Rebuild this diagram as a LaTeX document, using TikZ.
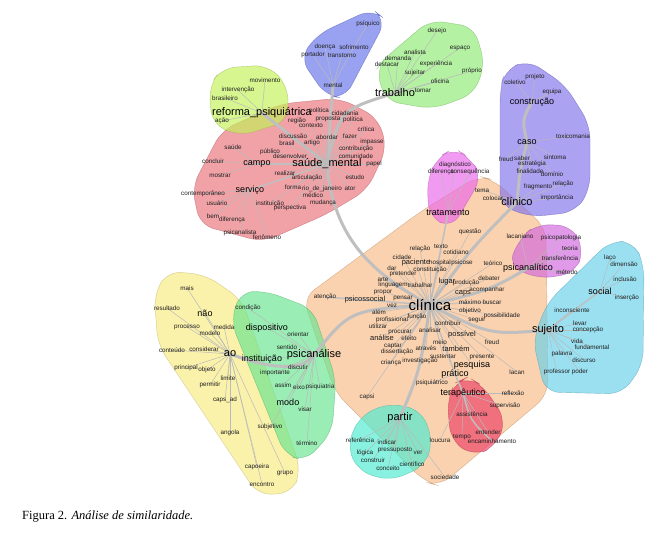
\documentclass[tikz,border=0pt]{standalone}
\usepackage{fontspec}
\setmainfont{Liberation Sans}
\newfontfamily\capfont{Liberation Serif}
\definecolor{cBlue}{RGB}{101,115,235}
\definecolor{cGreen}{RGB}{142,235,115}
\definecolor{cRef}{RGB}{195,242,88}
\definecolor{cPink}{RGB}{235,115,122}
\definecolor{cPurple}{RGB}{128,115,235}
\definecolor{cDiag}{RGB}{235,102,235}
\definecolor{cOrange}{RGB}{248,188,135}
\definecolor{cPsl}{RGB}{208,102,222}
\definecolor{cCyan}{RGB}{102,208,235}
\definecolor{cYellow}{RGB}{248,235,128}
\definecolor{cGreenB}{RGB}{102,228,142}
\definecolor{cRed}{RGB}{235,62,102}
\definecolor{cTeal}{RGB}{75,235,208}
\pgfdeclarelayer{blobs}
\pgfdeclarelayer{edges}
\pgfsetlayers{blobs,edges,main}
\tikzset{
  blob/.style={fill=#1, fill opacity=0.66, draw=#1!75!black, draw opacity=0.6, line width=0.4pt, rounded corners=14pt},
  e/.style={draw=black!27, line width=0.5pt},
  em/.style={draw=black!25, line width=1.5pt},
  te/.style={draw=black!25, line width=3pt},
  w1/.style={font=\fontsize{6.3}{7}\selectfont, inner sep=0.3pt, text=black!88},
  w2/.style={font=\fontsize{7.5}{8}\selectfont, inner sep=0.3pt, text=black!90},
  w3/.style={font=\fontsize{9}{10}\selectfont, inner sep=0.3pt, text=black},
  w4/.style={font=\fontsize{11}{12}\selectfont, inner sep=0.3pt, text=black},
  w5/.style={font=\fontsize{15}{16}\selectfont, inner sep=0.3pt, text=black},
}
\begin{document}
\begin{tikzpicture}[x=1pt,y=-1pt]
\path[use as bounding box] (0,0) rectangle (646,537);

% ---------- blobs ----------
\begin{pgfonlayer}{blobs}
\fill[white] (0,0) rectangle (646,537);
\path[blob=cOrange] (303,298) -- (420,212) -- (478,176) -- (494,180) -- (546,228) -- (548,395) -- (440,486) -- (425,482) -- (335,392) -- cycle;
\path[blob=cPink] (192,187) -- (222,130) -- (280,104) -- (340,98) -- (378,118) -- (387,148) -- (367,190) -- (327,214) -- (263,242) -- (200,225) -- cycle;
\path[blob=cBlue] (372,9) -- (386,20) -- (345,98) -- (326,96) -- (300,58) -- (318,34) -- cycle;
\path[blob=cGreen] (385,58) -- (430,20) -- (474,27) -- (485,64) -- (474,94) -- (433,109) -- (386,101) -- (376,70) -- cycle;
\path[blob=cRef] (222,68) -- (268,65) -- (288,86) -- (288,121) -- (240,136) -- (212,124) -- (209,86) -- cycle;
\path[blob=cPurple] (505,70) -- (528,60) -- (565,85) -- (590,125) -- (590,190) -- (575,212) -- (530,217) -- (500,205) -- (500,90) -- cycle;
\path[blob=cDiag] (437,158) -- (454,148) -- (470,158) -- (482,177) -- (452,228) -- (429,217) -- (427,180) -- cycle;
\path[blob=cPsl] (520,238) -- (537,224) -- (572,226) -- (584,250) -- (575,273) -- (540,279) -- (508,266) -- cycle;
\path[blob=cCyan] (610,241) -- (634,242) -- (644,265) -- (643,365) -- (622,394) -- (545,392) -- (533,340) -- (547,303) -- cycle;
\path[blob=cYellow] (168,271) -- (206,275) -- (242,300) -- (301,470) -- (292,493) -- (258,495) -- (158,345) -- (154,294) -- cycle;
\path[blob=cGreenB] (240,292) -- (266,291) -- (313,309) -- (336,380) -- (332,432) -- (306,461) -- (285,455) -- (231,322) -- cycle;
\path[blob=cRed] (455,383) -- (468,377) -- (483,386) -- (506,420) -- (496,446) -- (474,456) -- (451,441) -- (447,400) -- cycle;
\path[blob=cTeal] (360,416) -- (388,403) -- (421,410) -- (433,440) -- (425,466) -- (390,481) -- (358,471) -- (347,445) -- cycle;
\end{pgfonlayer}

% ---------- words ----------
% blue
\node[w1] (psiq) at (368,24) {psíquico};
\node[w1] (doen) at (325,47) {doença};
\node[w1] (sofr) at (354,47) {sofrimento};
\node[w1] (port) at (313,55) {portador};
\node[w1] (tran) at (342,55) {transtorno};
\node[w1] (ment) at (333,85) {mental};
% green top
\node[w1] (dese) at (437,31) {desejo};
\node[w1] (espa) at (460,48) {espaço};
\node[w1] (anal) at (415,52) {analista};
\node[w1] (dema) at (398,58) {demanda};
\node[w1] (dest) at (387,64) {destacar};
\node[w1] (expe) at (436,64) {experiência};
\node[w1] (prop) at (472,71) {próprio};
\node[w1] (suje) at (415,73) {sujeitar};
\node[w1] (ofic) at (440,81) {oficina};
\node[w4] (trab) at (395,93) {trabalho};
\node[w1] (toma) at (423,90) {tomar};
% reforma
\node[w1] (movi) at (265,80) {movimento};
\node[w1] (inte) at (238,90) {intervenção};
\node[w1] (bras) at (225,98) {brasileiro};
\node[w4] (refo) at (262,113) {reforma\_psiquiátrica};
\node[w1] (acao) at (222,121) {ação};
% pink
\node[w1] (pol1) at (319,111) {política};
\node[w1] (cida) at (345,113) {cidadania};
\node[w1] (regi) at (297,121) {região};
\node[w1] (cont) at (311,125) {contexto};
\node[w1] (prop2) at (328,119) {proposta};
\node[w1] (pol2) at (353,120) {política};
\node[w1] (crit) at (366,129) {crítica};
\node[w1] (disc) at (293,136) {discussão};
\node[w1] (abor) at (327,137) {abordar};
\node[w1] (faze) at (350,136) {fazer};
\node[w1] (brsl) at (287,143) {brasil};
\node[w1] (arti) at (312,143) {artigo};
\node[w1] (impa) at (372,142) {impasse};
\node[w1] (cntr) at (356,149) {contribuição};
\node[w1] (saud) at (233,147) {saúde};
\node[w1] (publ) at (270,152) {público};
\node[w1] (conc) at (213,161) {concluir};
\node[w1] (desv) at (290,156) {desenvolver};
\node[w1] (comu) at (356,156) {comunidade};
\node[w3] (camp) at (257,164) {campo};
\node[w4] (SM) at (327,164) {saúde\_mental};
\node[w1] (pape) at (374,164) {papel};
\node[w1] (most) at (220,175) {mostrar};
\node[w1] (real) at (285,173) {realizar};
\node[w1] (arts) at (307,178) {articulação};
\node[w1] (estu) at (355,177) {estudo};
\node[w3] (serv) at (250,190) {serviço};
\node[w1] (form) at (293,187) {forma};
\node[w1] (rioj) at (322,189) {rio\_de\_janeiro};
\node[w1] (ator) at (350,188) {ator};
\node[w1] (medi) at (313,195) {médico};
\node[w1] (ctmp) at (203,194) {contemporâneo};
\node[w1] (usua) at (217,203) {usuário};
\node[w1] (inst1) at (270,204) {instituição};
\node[w1] (muda) at (323,203) {mudança};
\node[w1] (pers) at (290,208) {perspectiva};
\node[w1] (bem) at (213,216) {bem};
\node[w1] (dife1) at (232,220) {diferença};
\node[w1] (psca) at (240,233) {psicanalista};
\node[w1] (feno) at (267,237) {fenômeno};
% purple
\node[w1] (cole) at (515,82) {coletivo};
\node[w1] (proj) at (535,77) {projeto};
\node[w1] (equi) at (552,92) {equipa};
\node[w3] (cons) at (532,102) {construção};
\node[w3] (caso) at (527,142) {caso};
\node[w1] (toxi) at (573,136) {toxicomania};
\node[w1] (freu1) at (506,159) {freud};
\node[w1] (sabe) at (522,158) {saber};
\node[w1] (sint) at (555,157) {sintoma};
\node[w1] (estr) at (532,164) {estratégia};
\node[w1] (fina) at (530,171) {finalidade};
\node[w1] (domi) at (552,174) {domínio};
\node[w1] (rela1) at (563,184) {relação};
\node[w1] (frag) at (538,187) {fragmento};
\node[w1] (impo) at (557,198) {importância};
\node[w4] (clin) at (517,202) {clínico};
% diag
\node[w1] (diag) at (455,165) {diagnóstico};
\node[w1] (dife2) at (441,172) {diferença};
\node[w1] (cseq) at (470,172) {consequência};
\node[w1] (tema) at (482,190) {tema};
\node[w1] (colo) at (493,198) {colocar};
\node[w3] (trat) at (448,213) {tratamento};
\node[w1] (ques) at (470,232) {questão};
% orange
\node[w1] (rela2) at (420,249) {relação};
\node[w1] (text) at (441,246) {texto};
\node[w1] (coti) at (456,252) {cotidiano};
\node[w1] (cida2) at (402,257) {cidade};
\node[w2] (paci) at (416,263) {paciente};
\node[w1] (hosp) at (440,263) {hospital};
\node[w1] (psic) at (462,263) {psicose};
\node[w1] (teor) at (493,263) {teórico};
\node[w1] (dar) at (392,268) {dar};
\node[w1] (cnst) at (430,270) {constituição};
\node[w1] (pret) at (403,274) {pretender};
\node[w1] (arte) at (383,279) {arte};
\node[w2] (luga) at (447,282) {lugar};
\node[w1] (prod) at (466,283) {produção};
\node[w1] (deba) at (489,278) {debater};
\node[w1] (ling) at (393,285) {linguagem};
\node[w1] (trba) at (420,285) {trabalhar};
\node[w2] (caps) at (463,293) {caps};
\node[w1] (acom) at (487,290) {acompanhar};
\node[w1] (prpr) at (383,292) {propor};
\node[w2] (pssc) at (365,300) {psicossocial};
\node[w1] (aten) at (325,297) {atenção};
\node[w1] (pens) at (403,298) {pensar};
\node[w5] (CL) at (430,305) {clínica};
\node[w1] (maxi) at (470,302) {máximo};
\node[w1] (busc) at (492,302) {buscar};
\node[w1] (vez) at (392,306) {vez};
\node[w1] (obje) at (470,311) {objetivo};
\node[w1] (poss) at (502,316) {possibilidade};
\node[w1] (segu) at (477,320) {seguir};
\node[w1] (alem) at (379,312) {além};
\node[w1] (func) at (417,317) {função};
\node[w1] (ocas) at (392,320) {profissional};
\node[w1] (util) at (378,326) {utilizar};
\node[w1] (cntb) at (448,323) {contribuir};
\node[w1] (procu) at (400,332) {procurar};
\node[w1] (anls) at (430,330) {analisar};
\node[w2] (anli) at (382,338) {análise};
\node[w1] (efei) at (409,338) {efeito};
\node[w2] (poss2) at (462,335) {possível};
\node[w1] (meio) at (440,342) {meio};
\node[w1] (freu2) at (492,342) {freud};
\node[w1] (capt) at (393,346) {captar};
\node[w1] (diss) at (397,352) {dissertação};
\node[w1] (atra) at (426,348) {através};
\node[w2] (tamb) at (456,349) {também};
\node[w1] (sust) at (443,356) {sustentar};
\node[w1] (pres) at (482,357) {presente};
\node[w1] (cria) at (391,363) {criança};
\node[w1] (inve) at (420,361) {investigação};
\node[w3] (pesq) at (472,365) {pesquisa};
\node[w3] (prat) at (455,374) {prático};
\node[w1] (lacan) at (517,372) {lacan};
\node[w1] (psqt) at (432,383) {psiquiátrico};
\node[w3] (tera) at (463,393) {terapêutico};
\node[w1] (refl) at (513,393) {reflexão};
\node[w1] (capsi) at (367,397) {capsi};
\node[w1] (superv) at (505,406) {supervisão};
\node[w1] (assi) at (472,414) {assistência};
\node[w4] (part) at (400,418) {partir};
\node[w1] (ente) at (488,432) {entender};
\node[w1] (louc) at (440,440) {loucura};
\node[w1] (temp) at (462,437) {tempo};
\node[w1] (enca) at (492,441) {encaminhamento};
\node[w1] (refe) at (360,440) {referência};
\node[w1] (indi) at (387,442) {indicar};
\node[w1] (logi) at (365,453) {lógica};
\node[w1] (pres2) at (395,450) {pressuposto};
\node[w1] (ver) at (418,453) {ver};
\node[w1] (cnsr) at (373,460) {construir};
\node[w1] (cien) at (412,464) {científico};
\node[w1] (conc2) at (388,468) {conceito};
\node[w1] (soci) at (445,477) {sociedade};
% psicanalitico
\node[w1] (lacn) at (520,236) {lacaniano};
\node[w1] (pspt) at (561,238) {psicopatologia};
\node[w1] (teor2) at (570,248) {teoria};
\node[w1] (trans) at (560,258) {transferência};
\node[w3] (PSL) at (528,268) {psicanalítico};
\node[w1] (meto) at (567,272) {método};
% sujeito
\node[w1] (laco) at (610,258) {laço};
\node[w1] (dime) at (624,264) {dimensão};
\node[w1] (incl) at (625,279) {inclusão};
\node[w3] (soc) at (600,291) {social};
\node[w1] (inse) at (627,298) {inserção};
\node[w1] (inco) at (572,310) {inconsciente};
\node[w1] (leva) at (580,323) {levar};
\node[w1] (conp) at (588,330) {concepção};
\node[w4] (SUJ) at (548,330) {sujeito};
\node[w1] (vida) at (577,341) {vida};
\node[w1] (fund) at (592,347) {fundamental};
\node[w1] (pala) at (562,354) {palavra};
\node[w1] (disc2) at (584,360) {discurso};
\node[w1] (prof) at (557,372) {professor};
\node[w1] (pode) at (580,372) {poder};
% yellow
\node[w1] (mais) at (187,288) {mais};
\node[w1] (resu) at (167,308) {resultado};
\node[w3] (nao) at (205,313) {não};
\node[w1] (proc) at (187,327) {processo};
\node[w1] (medi2) at (224,327) {medida};
\node[w1] (mode) at (210,333) {modelo};
\node[w1] (cntd) at (172,350) {conteúdo};
\node[w1] (cnsd) at (204,349) {considerar};
\node[w4] (AO) at (230,354) {ao};
\node[w1] (prin) at (186,368) {principal};
\node[w1] (obj) at (207,370) {objeto};
\node[w1] (limi) at (228,378) {limite};
\node[w1] (perm) at (210,385) {permitir};
\node[w1] (capad) at (225,400) {caps\_ad};
\node[w1] (ango) at (230,433) {angola};
\node[w1] (capo) at (257,467) {capoeira};
\node[w1] (enco) at (262,484) {encontro};
\node[w1] (grup) at (285,473) {grupo};
% green psicanalise
\node[w1] (cond) at (248,308) {condição};
\node[w3] (disp) at (267,328) {dispositivo};
\node[w1] (orie) at (298,334) {orientar};
\node[w1] (sent) at (287,347) {sentido};
\node[w4] (PSA) at (314,355) {psicanálise};
\node[w3] (inst2) at (262,359) {instituição};
\node[w1] (disc3) at (298,367) {discutir};
\node[w1] (impt) at (275,373) {importante};
\node[w1] (assi2) at (283,385) {assim};
\node[w1] (eixo) at (299,387) {eixo};
\node[w1] (psqa) at (320,387) {psiquiatria};
\node[w3] (modo) at (288,402) {modo};
\node[w1] (visa) at (305,409) {visar};
\node[w1] (subj) at (270,427) {subjetivo};
\node[w1] (term) at (307,443) {término};

% caption
\node[font=\capfont\fontsize{12.5}{14}\selectfont, anchor=base west, inner sep=0pt] (cap) at (22,520) {Figura 2. \textit{Análise de similaridade.}};

% ---------- edges ----------
\begin{pgfonlayer}{edges}
\draw[te] (SM.center) .. controls (333,240) and (375,275) .. (CL.center);
\draw[te] (SM.center) -- (refo.center);
\draw[te] (SM.center) -- (ment.center);
\draw[te] (SM.center) .. controls (340,110) .. (trab.center);
\draw[te] (CL.center) .. controls (470,250) .. (clin.center);
\draw[te] (clin.center) .. controls (520,170) .. (caso.center);
\draw[te] (caso.center) .. controls (522,120) .. (cons.center);
\draw[te] (CL.center) .. controls (490,290) .. (PSL.center);
\draw[te] (CL.center) .. controls (490,335) .. (SUJ.center);
\draw[te] (CL.center) .. controls (350,310) .. (PSA.center);
\draw[te] (PSA.center) .. controls (300,375) and (260,365) .. (AO.center);
\draw[te] (CL.center) .. controls (420,370) .. (part.center);
\draw[em] (CL.center) -- (prat.center);
\draw[em] (prat.center) -- (tera.center);
\draw[em] (tera.center) .. controls (470,420) .. (enca.center);
\draw[em] (CL.center) -- (trat.center);
\draw[em] (SM.center) -- (camp.center);
\draw[em] (SM.center) -- (serv.center);
\draw[em] (CL.center) -- (pssc.center);
\draw[em] (pssc.center) -- (aten.center);
\draw[em] (SUJ.center) -- (soc.center);
\draw[e] (sofr.center) -- (psiq.center);
\foreach \b in {port,tran,doen,sofr} \draw[e] (ment.center) -- (\b.center);
\foreach \b in {dese,espa,anal,dema,dest,expe,prop,suje,ofic,toma} \draw[e] (trab.center) -- (\b.center);
\foreach \b in {movi,inte,bras,acao} \draw[e] (refo.center) -- (\b.center);
\foreach \b in {pol1,cida,regi,cont,prop2,pol2,crit,disc,abor,faze,brsl,arti,impa,cntr,publ,desv,comu,pape,real,arts,estu,form,rioj,ator,medi,muda,pers,inst1} \draw[e] (SM.center) -- (\b.center);
\foreach \b in {saud,conc,most} \draw[e] (camp.center) -- (\b.center);
\foreach \b in {ctmp,usua,bem,dife1,psca,feno} \draw[e] (serv.center) -- (\b.center);
\foreach \b in {tema,colo,impo,frag,rela1} \draw[e] (clin.center) -- (\b.center);
\foreach \b in {toxi,freu1,sabe,sint,estr,fina,domi} \draw[e] (caso.center) -- (\b.center);
\foreach \b in {cole,proj,equi} \draw[e] (cons.center) -- (\b.center);
\foreach \b in {diag,dife2,cseq} \draw[e] (trat.center) -- (\b.center);
\foreach \b in {ques,rela2,text,coti,cida2,paci,hosp,psic,teor,dar,cnst,pret,arte,luga,prod,deba,ling,trba,caps,acom,prpr,pens,maxi,busc,vez,obje,poss,segu,alem,func,ocas,util,cntb,procu,anls,anli,efei,poss2,meio,freu2,capt,diss,atra,tamb,sust,pres,cria,inve,pesq,lacan,capsi} \draw[e] (CL.center) -- (\b.center);
\foreach \b in {psqt} \draw[e] (prat.center) -- (\b.center);
\foreach \b in {superv,assi,ente,temp,louc,refl} \draw[e] (tera.center) -- (\b.center);
\foreach \b in {refe,indi,logi,pres2,ver,cnsr,cien,conc2,soci} \draw[e] (part.center) -- (\b.center);
\foreach \b in {lacn,pspt,teor2,trans,meto} \draw[e] (PSL.center) -- (\b.center);
\foreach \b in {inco,leva,conp,vida,fund,pala,disc2,prof,pode} \draw[e] (SUJ.center) -- (\b.center);
\foreach \b in {laco,dime,incl,inse} \draw[e] (soc.center) -- (\b.center);
\foreach \b in {cond,disp,orie,sent,inst2,disc3,impt,assi2,eixo,psqa,modo,visa,subj,term} \draw[e] (PSA.center) -- (\b.center);
\foreach \b in {mais,resu,nao,proc,medi2,mode,cntd,cnsd,prin,obj,limi,perm,capad,ango,capo,enco,grup} \draw[e] (AO.center) -- (\b.center);
\end{pgfonlayer}
\end{tikzpicture}
\end{document}
